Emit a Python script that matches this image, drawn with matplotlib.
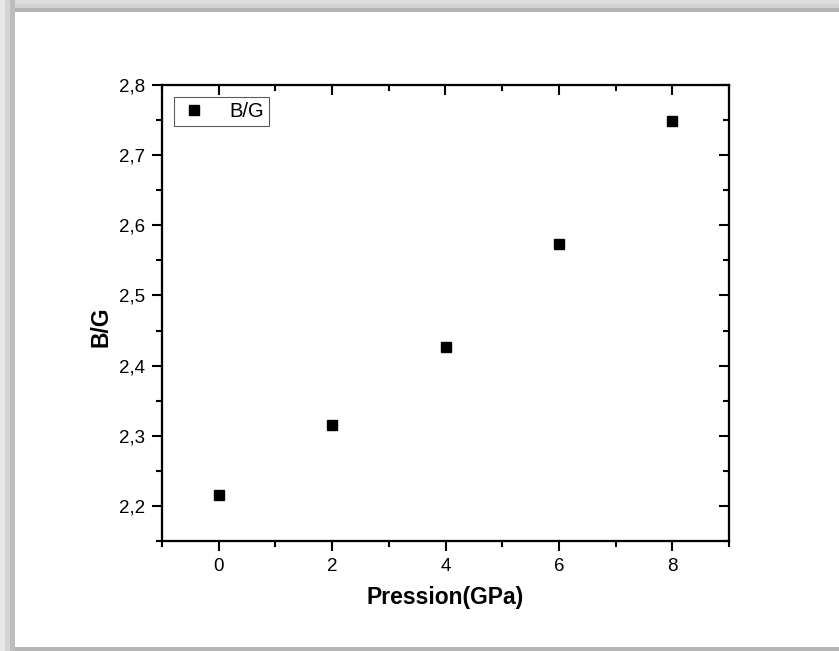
import matplotlib
matplotlib.use("Agg")
import matplotlib.pyplot as plt
from matplotlib.patches import Rectangle
from matplotlib.ticker import MultipleLocator, FuncFormatter

pression = [0, 2, 4, 6, 8]
bg = [2.215, 2.316, 2.426, 2.574, 2.749]

plt.rcParams['font.family'] = ['Liberation Sans', 'DejaVu Sans']

W, H = 839, 651
fig = plt.figure(figsize=(W / 100, H / 100), dpi=100)
fig.patch.set_facecolor('white')

def band(x0, y0, w, h, color):
    fig.patches.append(Rectangle((x0 / W, 1 - (y0 + h) / H), w / W, h / H,
                                 transform=fig.transFigure, color=color, lw=0, zorder=-10))
band(0, 0, W, 4, '#dcdcdc')
band(0, 4, W, 4, '#d2d2d2')
band(0, 8, W, 4, '#b4b4b4')
band(0, 0, 5, H, '#e6e6e6')
band(5, 0, 5, H, '#d4d4d4')
band(10, 0, 5, H, '#bdbdbd')
band(15, H - 4, W - 15, 4, '#b4b4b4')

rect = [162 / W, 1 - 541 / H, (729 - 162) / W, (541 - 85) / H]
ax = fig.add_axes(rect)
ax.plot(pression, bg, 's', color='black', markersize=7.5, label='B/G', zorder=5)

xlim = (-1, 9)
ylim = (2.15, 2.8)
ax.set_xlim(*xlim)
ax.set_ylim(*ylim)
ax.xaxis.set_major_locator(MultipleLocator(2))
ax.xaxis.set_minor_locator(MultipleLocator(1))
ax.yaxis.set_major_locator(MultipleLocator(0.1))
ax.yaxis.set_minor_locator(MultipleLocator(0.05))
ax.yaxis.set_major_formatter(FuncFormatter(lambda v, p: f"{v:.1f}".replace('.', ',')))

for s in ax.spines.values():
    s.set_linewidth(1.5)

ax.tick_params(which='both', direction='out', top=False, right=False, width=1.5,
               labelsize=13.5, colors='black')
ax.tick_params(which='major', length=7, pad=5)
ax.tick_params(which='minor', length=4)

# top ticks (inward)
axt = ax.twiny()
axt.set_xlim(*xlim)
axt.xaxis.set_major_locator(MultipleLocator(2))
axt.xaxis.set_minor_locator(MultipleLocator(1))
axt.tick_params(axis='x', which='both', direction='in', width=1.5, labeltop=False,
                labelbottom=False, top=True, bottom=False)
axt.tick_params(axis='x', which='major', length=7)
axt.tick_params(axis='x', which='minor', length=4)
axt.tick_params(axis='y', which='both', left=False, right=False,
                labelleft=False, labelright=False)

# right ticks (inward)
axr = ax.twinx()
axr.set_ylim(*ylim)
axr.yaxis.set_major_locator(MultipleLocator(0.1))
axr.yaxis.set_minor_locator(MultipleLocator(0.05))
axr.tick_params(axis='y', which='both', direction='in', width=1.5, labelright=False,
                labelleft=False, right=True, left=False)
axr.tick_params(axis='y', which='major', length=7)
axr.tick_params(axis='y', which='minor', length=4)
axr.tick_params(axis='x', which='both', top=False, bottom=False,
                labeltop=False, labelbottom=False)
for a in (axt, axr):
    for s in a.spines.values():
        s.set_linewidth(1.5)
    a.patch.set_visible(False)

ax.set_xlabel('Pression(GPa)', fontsize=16.5, fontweight='bold', labelpad=8)
ax.set_ylabel('B/G', fontsize=16.5, fontweight='bold')
ax.yaxis.set_label_coords(-0.088, 0.47)

leg = axr.legend(*ax.get_legend_handles_labels(), loc='upper left', fontsize=14.5,
                 frameon=True, fancybox=False, edgecolor='#333333', borderpad=0.25,
                 handletextpad=1.0, handlelength=1.5, borderaxespad=0.6, markerscale=1.0)
leg.get_frame().set_linewidth(0.8)

fig.savefig('out.png', dpi=100)
